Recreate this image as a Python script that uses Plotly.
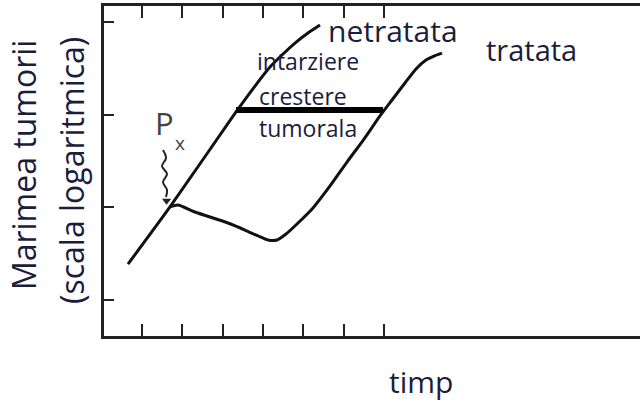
import plotly.graph_objects as go

# ---- data (time units, tumour size on log scale) ----
untreated_t = [0.653, 1.694, 3.331, 3.802, 4.174, 4.471, 4.794, 5.116, 5.414]
untreated_size = [24.4, 101, 1069, 2037, 3266, 4406, 5930, 7603, 9268]

treated_t = [1.694, 1.893, 2.314, 3.132, 3.554, 3.876, 4.124, 4.347, 4.571,
             4.843, 5.240, 5.662, 6.083, 6.505, 6.901, 7.199, 7.521, 7.794,
             8.042, 8.240, 8.439]
treated_size = [101, 106, 89, 67.8, 56.9, 49.1, 44.4, 44.4, 51.5,
                66.1, 98.4, 170, 308, 546, 968, 1439, 2198, 3112,
                3890, 4296, 4624]

delay_t = [3.331, 6.976]
delay_size = [1122, 1122]

squiggle_t = [1.521, 1.595, 1.496, 1.620, 1.521, 1.620, 1.595]
squiggle_size = [416, 340, 279, 229, 187.5, 154, 129]
arrow_t = [1.610]
arrow_size = [118]

x_ticks = [1, 2, 3, 4, 5, 6, 7]
y_ticks = [10, 100, 1000, 10000]

label_untreated = "netratata"
label_treated = "tratata"
label_delay = ["intarziere", "crestere", "tumorala"]
x_title = "timp"
y_title = ["Marimea tumorii", "(scala logaritmica)"]

TXT = "#1c1c3c"
FONT = "Open Sans"

fig = go.Figure()
fig.add_trace(go.Scatter(x=untreated_t, y=untreated_size, mode="lines",
                         line=dict(color="#111", width=3, shape="spline", smoothing=0.6)))
fig.add_trace(go.Scatter(x=treated_t, y=treated_size, mode="lines",
                         line=dict(color="#111", width=3, shape="spline", smoothing=0.6)))
fig.add_trace(go.Scatter(x=delay_t, y=delay_size, mode="lines",
                         line=dict(color="#000", width=6)))
fig.add_trace(go.Scatter(x=squiggle_t, y=squiggle_size, mode="lines",
                         line=dict(color="#222", width=2, shape="spline")))
fig.add_trace(go.Scatter(x=arrow_t, y=arrow_size, mode="markers",
                         marker=dict(symbol="triangle-down", size=8, color="#222")))

ann = []
def txt(text, x, y, size, color=TXT, angle=0):
    ann.append(dict(text=text, x=x, y=y, xref="paper", yref="paper", showarrow=False,
                    xanchor="center", yanchor="middle", textangle=angle,
                    font=dict(family=FONT, size=size, color=color)))

txt(label_untreated, 0.539, 0.925, 30)
txt(label_treated, 0.7985, 0.8667, 29)
txt(label_delay[0], 0.381, 0.833, 23)
txt(label_delay[1], 0.3715, 0.727, 23)
txt(label_delay[2], 0.381, 0.630, 23)
txt("P", 0.112, 0.645, 31, color="#444")
txt("x", 0.142, 0.585, 19, color="#444")
txt(x_title, 0.591, -0.139, 30)
txt(y_title[0], -0.151, 0.518, 32, angle=-90)
txt(y_title[1], -0.0616, 0.503, 32, angle=-90)

fig.update_layout(
    width=640, height=405,
    margin=dict(l=104, r=0, t=6, b=69),
    paper_bgcolor="white", plot_bgcolor="white",
    showlegend=False,
    annotations=ann,
    xaxis=dict(range=[0.058, 13.348], tickvals=x_ticks, showticklabels=False,
               showgrid=False, zeroline=False, showline=True, linecolor="#222",
               linewidth=2.5, mirror="ticks", ticks="inside", ticklen=12,
               tickwidth=2, tickcolor="#222"),
    yaxis=dict(type="log", range=[0.6115, 4.1727], tickvals=y_ticks,
               showticklabels=False, showgrid=False, zeroline=False,
               showline=True, linecolor="#222", linewidth=2.5, mirror=False,
               ticks="inside", ticklen=10, tickwidth=2, tickcolor="#222"),
)
fig.write_html("out.html")
